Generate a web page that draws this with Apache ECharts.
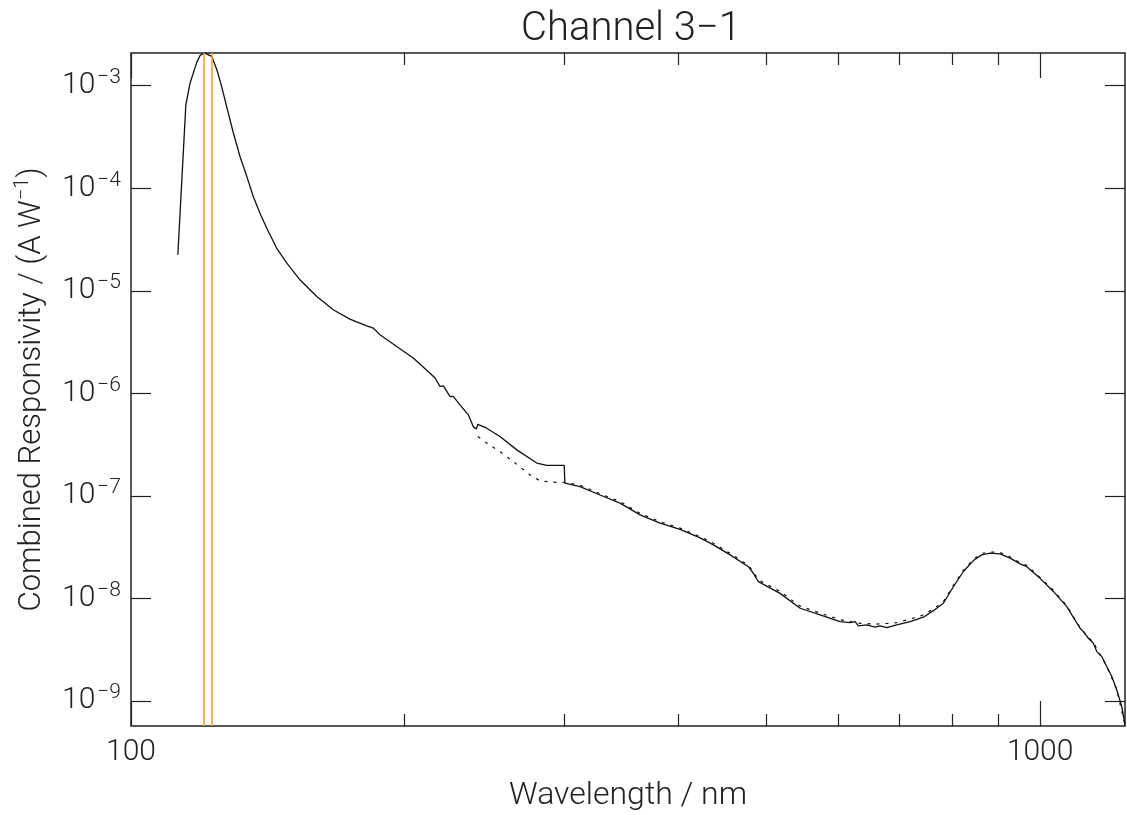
<!DOCTYPE html>
<html>
<head>
<meta charset="utf-8">
<title>Channel 3-1</title>
<script src="https://cdn.jsdelivr.net/npm/echarts@6/dist/echarts.min.js"></script>
<style>
  html, body { margin: 0; padding: 0; background: #fff; }
  #chart { width: 1127px; height: 815px; }
</style>
</head>
<body>
<div id="chart"></div>
<script>
// wavelength (nm) / responsivity (A/W) of the solid curve
const solidWl = [
  112.6, 114.9, 116.1, 118.1, 119.2, 120.6, 122.7, 124.3, 125.8, 127.4,
  129.6, 131.8, 134.1, 136.3, 138.6, 141.0, 144.6, 148.4, 153.4, 160.1,
  166.9, 174.1, 181.7, 184.7, 187.9,
  196.0, 204.4, 213.3, 216.0, 218.7, 220.6, 224.4, 226.2, 230.1, 233.0,
  235.0, 236.0, 238.0, 239.9, 240.7, 246.2, 254.6, 265.7, 279.5, 286.6,
  299.6, 300.1, 311.9, 328.1, 345.1, 363.1, 381.9, 401.8, 422.7, 437.2,
  456.1, 477.7, 483.7, 489.9, 517.6, 544.6, 572.9, 602.6, 618.0, 625.9,
  631.1, 644.7, 658.4, 666.8, 678.2, 695.6, 719.5, 744.1, 763.2, 782.8,
  802.8, 823.4, 844.5, 862.6, 881.0, 903.7, 926.8, 950.6, 966.9, 1000,
  1034.3, 1070.0, 1106.6, 1115.9, 1130.1, 1144.6, 1154.5, 1169.2, 1184.1, 1199.2,
  1214.5, 1230.0, 1240
];
const solidResp = [
  2.25e-5, 6.5e-4, 1.05e-3, 1.68e-3, 1.99e-3, 2.08e-3, 1.93e-3, 1.43e-3, 9.84e-4, 6.28e-4,
  3.46e-4, 2.04e-4, 1.30e-4, 8.32e-5, 5.73e-5, 4.09e-5, 2.61e-5, 1.86e-5, 1.28e-5, 8.80e-6,
  6.53e-6, 5.30e-6, 4.56e-6, 4.33e-6, 3.72e-6,
  2.86e-6, 2.21e-6, 1.57e-6, 1.41e-6, 1.17e-6, 1.18e-6, 9.31e-7, 9.35e-7, 7.72e-7, 6.75e-7,
  6.17e-7, 6.38e-7, 4.71e-7, 4.50e-7, 4.98e-7, 4.57e-7, 3.79e-7, 2.81e-7, 2.09e-7, 1.98e-7,
  1.98e-7, 1.33e-7, 1.23e-7, 1.02e-7, 8.49e-8, 6.52e-8, 5.42e-8, 4.71e-8, 3.89e-8, 3.33e-8,
  2.66e-8, 2.04e-8, 1.76e-8, 1.46e-8, 1.12e-8, 8.02e-9, 6.90e-9, 5.94e-9, 5.81e-9, 5.94e-9,
  5.39e-9, 5.51e-9, 5.24e-9, 5.39e-9, 5.19e-9, 5.51e-9, 5.94e-9, 6.56e-9, 7.60e-9, 8.98e-9,
  1.30e-8, 1.83e-8, 2.34e-8, 2.66e-8, 2.76e-8, 2.72e-8, 2.47e-8, 2.17e-8, 2.04e-8, 1.57e-8,
  1.17e-8, 8.32e-9, 5.12e-9, 4.74e-9, 4.09e-9, 3.66e-9, 3.03e-9, 2.71e-9, 2.16e-9, 1.73e-9,
  1.28e-9, 8.8e-10, 5.8e-10
];

// dotted curve (starts at 240 nm)
const dashWl = [
  240.7, 246.2, 254.6, 263.4, 274.8, 281.8, 291.5, 300.1, 311.9, 328.1,
  345.1, 363.1, 381.9, 401.8, 422.7, 437.2, 456.1, 477.7, 483.7, 489.9,
  517.6, 544.6, 572.9, 602.6, 631.1, 658.4, 695.6, 719.5, 744.1, 763.2,
  782.8, 802.8, 823.4, 844.5, 862.6, 881.0, 903.7, 926.8, 950.6, 966.9,
  1000, 1034.3, 1070.0, 1106.6, 1144.6, 1184.1, 1214.5, 1240
];
const dashResp = [
  3.79e-7, 3.27e-7, 2.70e-7, 2.16e-7, 1.60e-7, 1.40e-7, 1.36e-7, 1.35e-7, 1.27e-7, 1.05e-7,
  8.8e-8, 6.75e-8, 5.6e-8, 4.85e-8, 4.0e-8, 3.45e-8, 2.75e-8, 2.1e-8, 1.82e-8, 1.52e-8,
  1.17e-8, 8.4e-9, 7.2e-9, 6.2e-9, 5.75e-9, 5.6e-9, 5.8e-9, 6.3e-9, 6.9e-9, 7.9e-9,
  9.3e-9, 1.34e-8, 1.88e-8, 2.4e-8, 2.75e-8, 2.84e-8, 2.8e-8, 2.54e-8, 2.23e-8, 2.1e-8,
  1.6e-8, 1.2e-8, 8.5e-9, 5.2e-9, 3.7e-9, 2.18e-9, 1.29e-9, 5.8e-10
];

// orange band edges (nm)
const bandEdges = [120.3, 122.8];

// axis ticks
const xLabelTicks = [100, 1000];
const xMinorTicks = [200, 300, 400, 500, 600, 700, 800, 900];
const xMajorTicks = [100, 1000];
const yTicks = [1e-9, 1e-8, 1e-7, 1e-6, 1e-5, 1e-4, 1e-3];

const FONT = 'Roboto';
const INK = '#222';

const pair = (xs, ys) => xs.map((x, i) => [x, ys[i]]);

const expLabel = function (v) {
  const e = Math.round(Math.log10(v));
  return '{b|10}{s|' + (e < 0 ? '\u2212' : '') + Math.abs(e) + '}';
};

function xAx(pos, ticks, len, extra) {
  return Object.assign({
    type: 'log',
    logBase: 10,
    min: 100,
    max: 1240,
    position: pos,
    axisLine: { show: false },
    splitLine: { show: false },
    axisTick: { show: true, inside: true, length: len, customValues: ticks, lineStyle: { color: INK, width: 1.2 } },
    axisLabel: { show: false }
  }, extra || {});
}

function yAx(pos, extra) {
  return Object.assign({
    type: 'log',
    logBase: 10,
    min: 5.7e-10,
    max: 2.085e-3,
    position: pos,
    axisLine: { show: false },
    splitLine: { show: false },
    axisTick: { show: true, inside: true, length: 20, customValues: yTicks, lineStyle: { color: INK, width: 1.2 } },
    axisLabel: { show: false }
  }, extra || {});
}

const myChart = echarts.init(document.getElementById('chart'), null, { renderer: 'canvas' });

myChart.setOption({
  animation: false,
  backgroundColor: '#fff',
  title: {
    text: 'Channel 3\u22121',
    left: 626,
    top: 5,
    textAlign: 'center',
    textStyle: { fontFamily: FONT, fontWeight: 300, fontSize: 40, color: INK }
  },
  grid: {
    left: 131, right: 2, top: 53, bottom: 89,
    containLabel: false, outerBoundsMode: 'none',
    show: true, borderColor: INK, borderWidth: 1.5
  },
  xAxis: [
    xAx('bottom', xMinorTicks, 12, {
      name: 'Wavelength / nm',
      nameLocation: 'middle',
      nameGap: 54,
      nameTextStyle: { fontFamily: FONT, fontWeight: 300, fontSize: 32, color: INK },
      axisLabel: {
        show: true,
        customValues: xLabelTicks,
        margin: 11,
        fontFamily: FONT, fontWeight: 300, fontSize: 30, color: INK,
        formatter: function (v) { return String(Math.round(v)); }
      }
    }),
    xAx('bottom', xMajorTicks, 25),
    xAx('top', xMinorTicks, 12),
    xAx('top', xMajorTicks, 25)
  ],
  yAxis: [
    yAx('left', {
      name: 'Combined Responsivity / (A W{s|\u22121})',
      nameLocation: 'middle',
      nameGap: 80,
      nameTextStyle: {
        fontFamily: FONT, fontWeight: 300, fontSize: 31, color: INK,
        rich: { s: { fontFamily: FONT, fontWeight: 300, fontSize: 20, color: INK, padding: [0, 0, 18, 0] } }
      },
      axisLabel: {
        show: true,
        customValues: yTicks,
        margin: 10,
        formatter: expLabel,
        rich: {
          b: { fontFamily: FONT, fontWeight: 300, fontSize: 30, color: INK },
          s: { fontFamily: FONT, fontWeight: 300, fontSize: 21, color: INK, padding: [0, 0, 16, 2] }
        }
      }
    }),
    yAx('right')
  ],
  series: [
    {
      name: 'solid',
      type: 'line',
      data: pair(solidWl, solidResp),
      showSymbol: false,
      symbol: 'none',
      lineStyle: { color: '#111', width: 1.3 },
      z: 3,
      markLine: {
        silent: true,
        symbol: 'none',
        label: { show: false },
        lineStyle: { color: '#F0A030', width: 1.6, type: 'solid' },
        data: bandEdges.map(v => ({ xAxis: v }))
      }
    },
    {
      name: 'dotted',
      type: 'line',
      data: pair(dashWl, dashResp),
      showSymbol: false,
      symbol: 'none',
      lineStyle: { color: '#111', width: 1.2, type: [3, 6] },
      z: 2
    }
  ]
});
myChart.resize();
</script>
</body>
</html>
